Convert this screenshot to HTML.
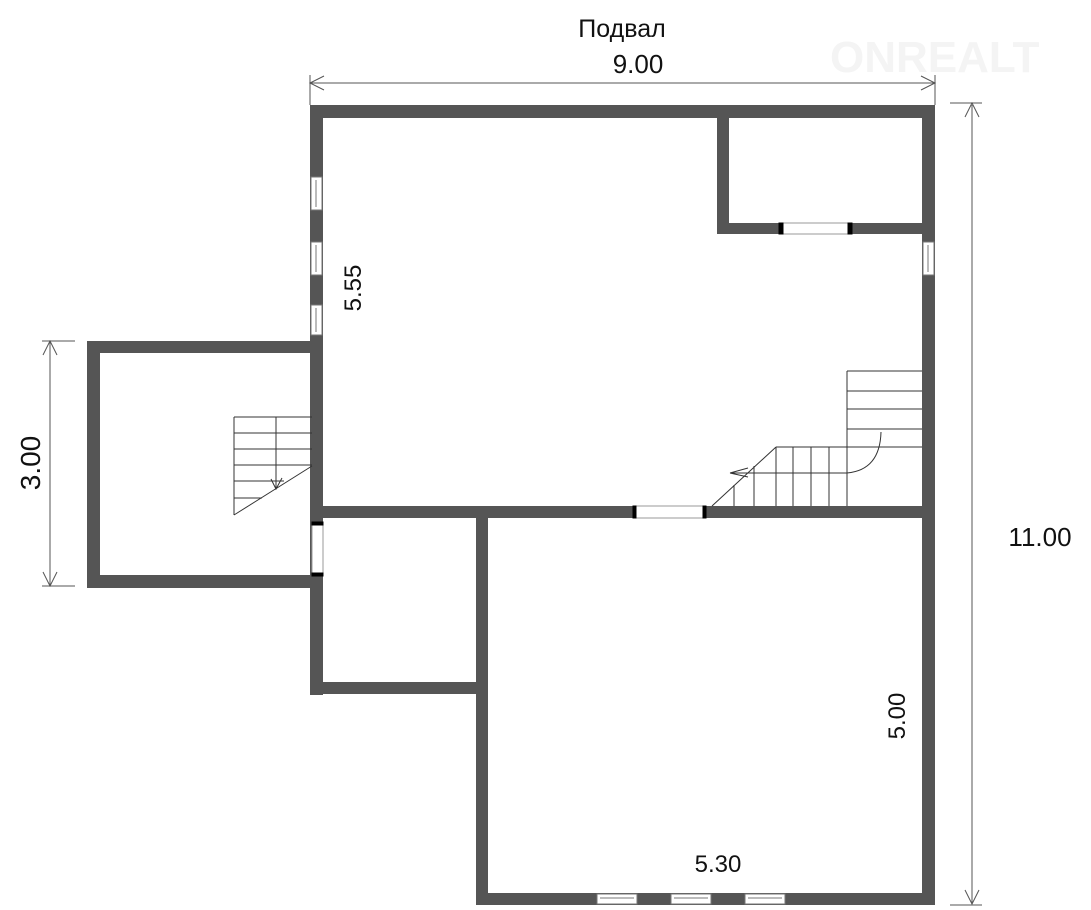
<!DOCTYPE html>
<html><head><meta charset="utf-8"><style>
html,body{margin:0;padding:0;background:#fff;}
svg{display:block;}
text{font-family:"Liberation Sans","DejaVu Sans",sans-serif;fill:#111;}
</style></head><body>
<svg width="1091" height="910" viewBox="0 0 1091 910" xmlns="http://www.w3.org/2000/svg">
<text x="830" y="72" font-size="44" font-weight="bold" style="fill:#f4f4f4">ONREALT</text>
<g fill="#555">
  <rect x="310" y="105" width="625" height="13"/>
  <rect x="310" y="105" width="13" height="590"/>
  <rect x="922" y="105" width="13" height="800"/>
  <rect x="717" y="118" width="12" height="116"/>
  <rect x="717" y="223" width="205" height="11"/>
  <rect x="323" y="506" width="599" height="12"/>
  <rect x="87" y="341" width="236" height="12"/>
  <rect x="87" y="341" width="13" height="247"/>
  <rect x="87" y="575" width="236" height="13"/>
  <rect x="476" y="506" width="12" height="399"/>
  <rect x="310" y="682" width="178" height="12"/>
  <rect x="476" y="893" width="459" height="12"/>
</g>
<g stroke="#000" stroke-width="1">
  <rect x="779" y="223" width="73" height="11" fill="#fff" stroke="#999"/>
  <rect x="779" y="223" width="4" height="11" fill="#000"/>
  <rect x="848" y="223" width="4" height="11" fill="#000"/>
  <rect x="633" y="506" width="73" height="12" fill="#fff" stroke="#999"/>
  <rect x="633" y="506" width="3" height="12" fill="#000"/>
  <rect x="703" y="506" width="3" height="12" fill="#000"/>
  <rect x="312" y="523" width="11" height="52" fill="#fff" stroke="#999"/>
  <rect x="312" y="522" width="11" height="3" fill="#000"/>
  <rect x="312" y="573" width="11" height="3" fill="#000"/>
</g>
<g fill="#fff" stroke="#777" stroke-width="1">
  <rect x="311" y="177" width="11" height="33"/><line x1="316" y1="180" x2="316" y2="207"/>
  <rect x="311" y="242" width="11" height="33"/><line x1="316" y1="245" x2="316" y2="272"/>
  <rect x="311" y="305" width="11" height="30"/><line x1="316" y1="308" x2="316" y2="332"/>
  <rect x="923" y="242" width="11" height="33"/><line x1="928" y1="245" x2="928" y2="272"/>
  <rect x="597" y="894" width="40" height="10"/><line x1="600" y1="898" x2="634" y2="898"/>
  <rect x="671" y="894" width="40" height="10"/><line x1="674" y1="898" x2="708" y2="898"/>
  <rect x="745" y="894" width="40" height="10"/><line x1="748" y1="898" x2="782" y2="898"/>
</g>
<g stroke="#333" stroke-width="1" fill="none">
  <line x1="847" y1="371" x2="847" y2="506"/>
  <line x1="847" y1="371" x2="922" y2="371"/>
  <line x1="847" y1="391" x2="922" y2="391"/>
  <line x1="847" y1="409" x2="922" y2="409"/>
  <line x1="847" y1="429" x2="922" y2="429"/>
  <line x1="776" y1="447" x2="922" y2="447"/>
  <line x1="776" y1="447" x2="776" y2="506"/>
  <line x1="793" y1="447" x2="793" y2="506"/>
  <line x1="811" y1="447" x2="811" y2="506"/>
  <line x1="829" y1="447" x2="829" y2="506"/>
  <line x1="754" y1="466" x2="754" y2="506"/>
  <line x1="734" y1="485" x2="734" y2="506"/>
  <line x1="712" y1="506" x2="776" y2="447"/>
  <path d="M730 473 L847 473 Q880 470 881 432"/>
  <path d="M730 473 L748 468 M730 473 L748 477"/>
</g>
<g stroke="#333" stroke-width="1" fill="none">
  <line x1="234" y1="417" x2="234" y2="515"/>
  <line x1="234" y1="417" x2="312" y2="417"/>
  <line x1="234" y1="433" x2="312" y2="433"/>
  <line x1="234" y1="449" x2="312" y2="449"/>
  <line x1="234" y1="465" x2="312" y2="465"/>
  <line x1="234" y1="481" x2="284" y2="481"/>
  <line x1="234" y1="498" x2="262" y2="498"/>
  <line x1="276" y1="417" x2="276" y2="489"/>
  <line x1="234" y1="515" x2="312" y2="466"/>
  <path d="M271 479 L276 489 L282 478"/>
</g>
<g stroke="#555" stroke-width="1" fill="none">
  <line x1="310" y1="83" x2="935" y2="83"/>
  <line x1="310" y1="75" x2="310" y2="105"/>
  <line x1="935" y1="75" x2="935" y2="105"/>
  <path d="M324 76 L310 83 L324 90 M921 76 L935 83 L921 90"/>
  <line x1="972" y1="105" x2="972" y2="903"/>
  <line x1="950" y1="103" x2="982" y2="103"/>
  <line x1="950" y1="905" x2="982" y2="905"/>
  <path d="M965 117 L972 103 L979 117 M965 890 L972 904 L979 890"/>
  <line x1="50" y1="341" x2="50" y2="586"/>
  <line x1="42" y1="341" x2="75" y2="341"/>
  <line x1="42" y1="586" x2="75" y2="586"/>
  <path d="M43 355 L50 341 L57 355 M43 572 L50 586 L57 572"/>
</g>
<text x="622" y="37" font-size="25" text-anchor="middle">Подвал</text>
<text x="638" y="73" font-size="26" text-anchor="middle">9.00</text>
<text x="1040" y="546" font-size="26" text-anchor="middle">11.00</text>
<text x="0" y="0" font-size="28" text-anchor="middle" transform="translate(40,463) rotate(-90)">3.00</text>
<text x="0" y="0" font-size="24" text-anchor="middle" transform="translate(361,288) rotate(-90)">5.55</text>
<text x="0" y="0" font-size="24" text-anchor="middle" transform="translate(905,716) rotate(-90)">5.00</text>
<text x="718" y="872" font-size="24" text-anchor="middle">5.30</text>
</svg>
</body></html>
